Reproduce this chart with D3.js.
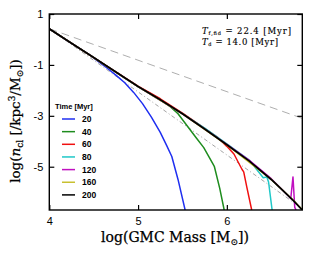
<!DOCTYPE html>
<html><head><meta charset="utf-8">
<script src="https://cdn.jsdelivr.net/npm/d3@7"></script>
<style>body{margin:0;background:#fff}</style></head>
<body><svg id="c" width="312" height="258"></svg>
<script>
// ---- data (log GMC mass, log n_cl) ----
const timeLabels = ["20", "40", "60", "80", "120", "160", "200"];
const lineColors = ["#1f2ff0", "#1e8c1e", "#f01010", "#20c8c8", "#c010c0", "#c8c030", "#000000"];

const mass20 = [4, 4.25, 4.45, 4.55, 4.65, 4.75, 4.85, 4.95, 5.05, 5.15, 5.25, 5.32, 5.38, 5.45, 5.53];
const n20    = [0.42, -0.15, -0.6, -0.86, -1.12, -1.40, -1.70, -2.08, -2.52, -3.05, -3.65, -4.15, -4.60, -5.5, -6.7];

const mass40 = [4, 4.5, 5, 5.25, 5.35, 5.45, 5.55, 5.65, 5.74, 5.84, 5.86, 5.92, 5.97];
const n40    = [0.42, -0.71, -1.85, -2.35, -2.60, -2.92, -3.38, -3.84, -4.25, -4.87, -5.0, -5.85, -6.7];

const mass60 = [4, 4.5, 5, 5.25, 5.5, 5.75, 5.9, 6.0, 6.08, 6.17, 6.19, 6.225, 6.28];
const n60    = [0.42, -0.71, -1.83, -2.33, -2.89, -3.49, -3.86, -4.2, -4.5, -5.1, -5.2, -5.8, -6.7];

const mass80 = [4, 4.5, 5, 5.5, 5.75, 6.0, 6.26, 6.33, 6.41, 6.45, 6.47, 6.51];
const n80    = [0.42, -0.71, -1.85, -2.92, -3.48, -4.10, -4.76, -5.08, -5.43, -5.40, -5.6, -6.7];

const mass120 = [4, 4.5, 5, 5.5, 6, 6.25, 6.5, 6.7, 6.72, 6.745, 6.765, 6.78];
const n120    = [0.42, -0.71, -1.85, -2.92, -4.12, -4.74, -5.47, -6.17, -6.25, -5.4, -6.6, -6.7];

const mass160 = [4, 4.5, 5, 5.5, 6, 6.5, 6.75, 6.85];
const n160    = [0.42, -0.71, -1.85, -2.92, -4.14, -5.50, -6.32, -6.69];

const mass200 = [4, 4.25, 4.5, 4.75, 5, 5.25, 5.5, 5.75, 6, 6.25, 6.5, 6.75, 6.85];
const n200    = [0.42, -0.15, -0.71, -1.28, -1.85, -2.37, -2.92, -3.52, -4.14, -4.77, -5.50, -6.33, -6.70];

// reference power-law lines
const refHiMass = [4, 6.85];
const refHiN    = [0.42, -3.10];
const refLoMass = [4, 6.9];
const refLoN    = [0.42, -6.77];

const xTicks = [4, 5, 6];
const yTicks = [1, -1, -3, -5];

const seriesMass = [mass20, mass40, mass60, mass80, mass120, mass160, mass200];
const seriesN    = [n20, n40, n60, n80, n120, n160, n200];

// ---- layout ----
const L = 49.3, R = 302.3, T = 14, B = 210;
const svg = d3.select("#c");
const x = d3.scaleLinear().domain([4, 6.85]).range([L, R]);
const y = d3.scaleLinear().domain([-6.7, 1]).range([B, T]);

svg.append("defs").append("clipPath").attr("id", "clip")
  .append("rect").attr("x", L).attr("y", T).attr("width", R - L).attr("height", B - T);

const plot = svg.append("g").attr("clip-path", "url(#clip)");
const line = d3.line().x(d => x(d[0])).y(d => y(d[1]));

plot.append("path").datum(d3.zip(refHiMass, refHiN)).attr("d", line)
  .attr("fill", "none").attr("stroke", "#999").attr("stroke-width", 0.8)
  .attr("stroke-dasharray", "8,5");
plot.append("path").datum(d3.zip(refLoMass, refLoN)).attr("d", line)
  .attr("fill", "none").attr("stroke", "#9a9a9a").attr("stroke-width", 0.9)
  .attr("stroke-dasharray", "4,2.5,1,2.5");

seriesMass.forEach((m, i) => {
  plot.append("path").datum(d3.zip(m, seriesN[i])).attr("d", line)
    .attr("fill", "none").attr("stroke", lineColors[i])
    .attr("stroke-width", i === 6 ? 1.8 : 1.5).attr("stroke-linejoin", "round");
});

// ---- axes ----
const tickFont = "Liberation Sans, Arial, sans-serif";
function styleAxis(g) {
  g.select(".domain").remove();
  g.selectAll("line").attr("stroke", "#000").attr("stroke-width", 1.2);
  g.selectAll("text").attr("font-family", tickFont).attr("font-size", 11).attr("fill", "#000");
}
svg.append("g").attr("transform", `translate(0,${B})`)
  .call(d3.axisBottom(x).tickValues(xTicks).tickSize(-5).tickPadding(7).tickFormat(d => String(d)))
  .call(styleAxis);
svg.append("g").attr("transform", `translate(0,${T})`)
  .call(d3.axisTop(x).tickValues(xTicks).tickSize(-5).tickFormat(""))
  .call(styleAxis);
svg.append("g").attr("transform", `translate(${L},0)`)
  .call(d3.axisLeft(y).tickValues(yTicks).tickSize(-5).tickPadding(6).tickFormat(d => String(d)))
  .call(styleAxis);
svg.append("g").attr("transform", `translate(${R},0)`)
  .call(d3.axisRight(y).tickValues(yTicks).tickSize(-5).tickFormat(""))
  .call(styleAxis);

svg.append("rect").attr("x", L).attr("y", T).attr("width", R - L).attr("height", B - T)
  .attr("fill", "none").attr("stroke", "#000").attr("stroke-width", 1.4);

// ---- legend ----
const lg = svg.append("g");
lg.append("text").attr("x", 55).attr("y", 109).text("Time [Myr]")
  .attr("font-family", tickFont).attr("font-weight", "bold").attr("font-size", 7.5);
timeLabels.forEach((t, i) => {
  const yy = 119 + i * 12.65;
  lg.append("line").attr("x1", 62).attr("x2", 75).attr("y1", yy).attr("y2", yy)
    .attr("stroke", lineColors[i]).attr("stroke-width", 1.5);
  lg.append("text").attr("x", 82).attr("y", yy + 3).text(t)
    .attr("font-family", tickFont).attr("font-weight", "bold").attr("font-size", 8.5);
});

// ---- annotation ----
const serif = "DejaVu Serif, serif";
const a1 = svg.append("text").attr("x", 202).attr("y", 34).attr("font-family", serif).attr("font-size", 8.5)
  .attr("stroke", "#000").attr("stroke-width", 0.15)
  .attr("textLength", 89).attr("lengthAdjust", "spacing");
a1.append("tspan").attr("font-style", "italic").text("T");
a1.append("tspan").attr("font-size", 5).attr("dy", 1.2).text("f,fid");
a1.append("tspan").attr("dy", -1.2).text(" = 22.4 [Myr]");
const a2 = svg.append("text").attr("x", 202).attr("y", 44.5).attr("font-family", serif).attr("font-size", 8.5)
  .attr("stroke", "#000").attr("stroke-width", 0.15)
  .attr("textLength", 76).attr("lengthAdjust", "spacing");
a2.append("tspan").attr("font-style", "italic").text("T");
a2.append("tspan").attr("font-size", 5).attr("dy", 1.2).text("d");
a2.append("tspan").attr("dy", -1.2).text(" = 14.0 [Myr]");

// ---- axis titles ----
const xl = svg.append("text").attr("x", 175).attr("y", 242).attr("text-anchor", "middle")
  .attr("font-family", serif).attr("font-size", 14).attr("stroke", "#000").attr("stroke-width", 0.25);
xl.append("tspan").text("log(GMC Mass [M");
xl.append("tspan").attr("font-size", 9).attr("dy", 3).text("⊙");
xl.append("tspan").attr("dy", -3).text("])");

const yl = svg.append("text").attr("transform", "translate(19.5,121) rotate(-90)")
  .attr("text-anchor", "middle").attr("font-family", serif).attr("font-size", 13.5)
  .attr("stroke", "#000").attr("stroke-width", 0.25);
yl.append("tspan").text("log(");
yl.append("tspan").attr("font-style", "italic").text("n");
yl.append("tspan").attr("font-size", 9).attr("dy", 3).text("cl");
yl.append("tspan").attr("dy", -3).text(" [/kpc");
yl.append("tspan").attr("font-size", 9).attr("dy", -5).text("3");
yl.append("tspan").attr("dy", 5).text("/M");
yl.append("tspan").attr("font-size", 9).attr("dy", 3).text("⊙");
yl.append("tspan").attr("dy", -3).text("])");
</script></body></html>
